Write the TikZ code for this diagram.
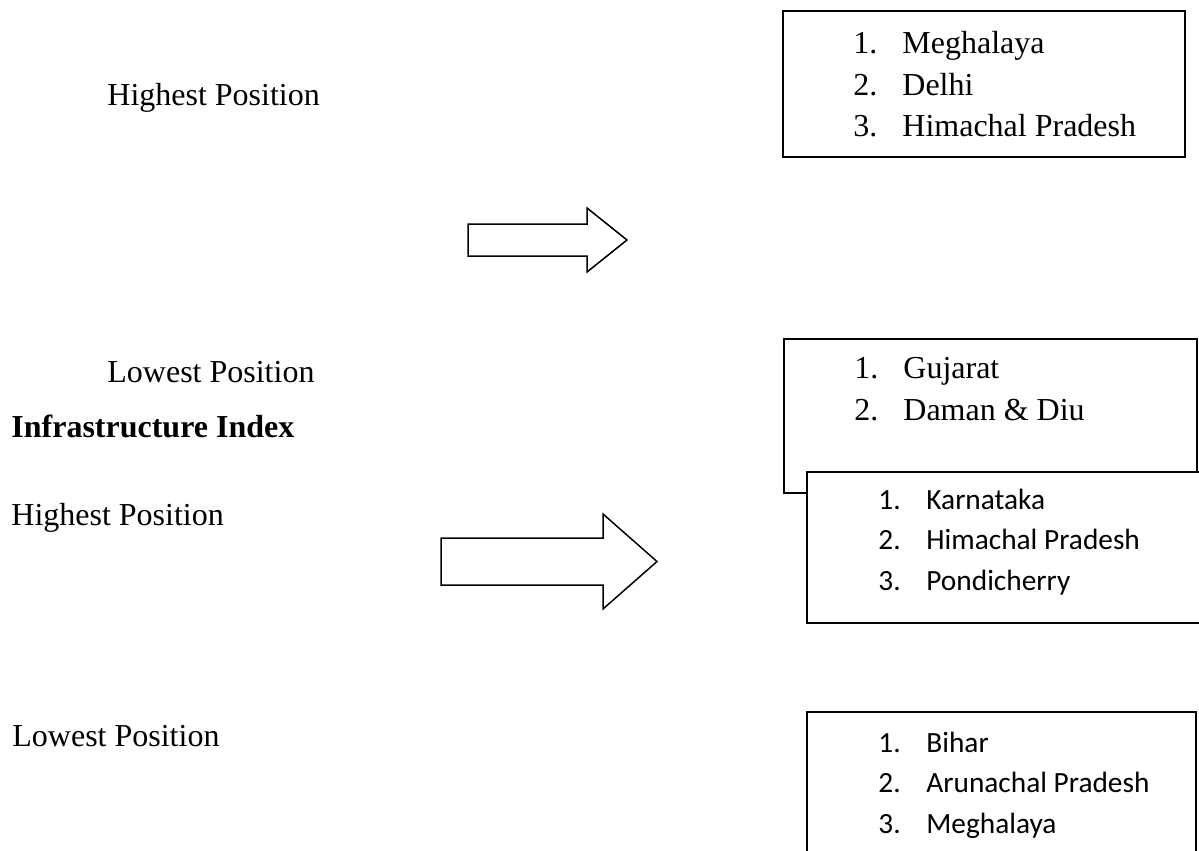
\documentclass[tikz,border=0pt]{standalone}
\usepackage{fontspec}
\setmainfont{Liberation Serif}
\newfontfamily\calibrifont{Carlito}
\usetikzlibrary{fit}

\begin{document}
\begin{tikzpicture}[
  x=0.5pt, y=-0.5pt,
  poslabel/.style={anchor=base west, inner sep=0pt, font=\fontsize{16}{21}\selectfont},
  listbox/.style={draw, line width=0.75pt, fill=white, inner sep=0pt},
  seriflist/.style={anchor=base west, inner sep=0pt, font=\fontsize{16}{21}\selectfont},
  sanslist/.style={anchor=base west, inner sep=0pt, font=\calibrifont\fontsize{14.67}{20.4}\selectfont},
  blockarrow/.style={draw, line width=0.75pt, fill=white}
]
\clip (0,0) rectangle (1199,851);
\fill[white] (0,0) rectangle (1199,851);

% left column
\node[poslabel] (highA) at (107,105) {Highest Position};
\node[poslabel] (lowA) at (107,382) {Lowest Position};
\node[poslabel, font=\fontsize{16}{21}\selectfont\bfseries] (title) at (11,437) {Infrastructure Index};
\node[poslabel] (highB) at (11,525) {Highest Position};
\node[poslabel] (lowB) at (12,746) {Lowest Position};

% block arrows
\draw[blockarrow] (468,224) -- (587,224) -- (587,208) -- (627,240)
  -- (587,272) -- (587,256) -- (468,256) -- cycle;
\draw[blockarrow] (441,538) -- (603,538) -- (603,514) -- (657,561.5)
  -- (603,609) -- (603,585) -- (441,585) -- cycle;

% boxes
\node[listbox, fit={(783,11) (1185,157)}] (boxHighA) {};
\node[seriflist] (listHighA) at (853,53)
  {\begin{tabular}[t]{@{}p{24.5pt}@{}l@{}}1. & Meghalaya\\2. & Delhi\\3. & Himachal Pradesh\end{tabular}};

\node[listbox, fit={(784,339) (1197,493)}] (boxLowA) {};
\node[seriflist] (listLowA) at (854,378)
  {\begin{tabular}[t]{@{}p{24.5pt}@{}l@{}}1. & Gujarat\\2. & Daman \& Diu\end{tabular}};

\node[listbox, fit={(807,472) (1215,623)}] (boxHighB) {};
\node[sanslist] (listHighB) at (878,509)
  {\begin{tabular}[t]{@{}p{24pt}@{}l@{}}1. & Karnataka\\2. & Himachal Pradesh\\3. & Pondicherry\end{tabular}};

\node[listbox, fit={(807,712) (1196,870)}] (boxLowB) {};
\node[sanslist] (listLowB) at (878,752)
  {\begin{tabular}[t]{@{}p{24pt}@{}l@{}}1. & Bihar\\2. & Arunachal Pradesh\\3. & Meghalaya\end{tabular}};

\end{tikzpicture}
\end{document}
